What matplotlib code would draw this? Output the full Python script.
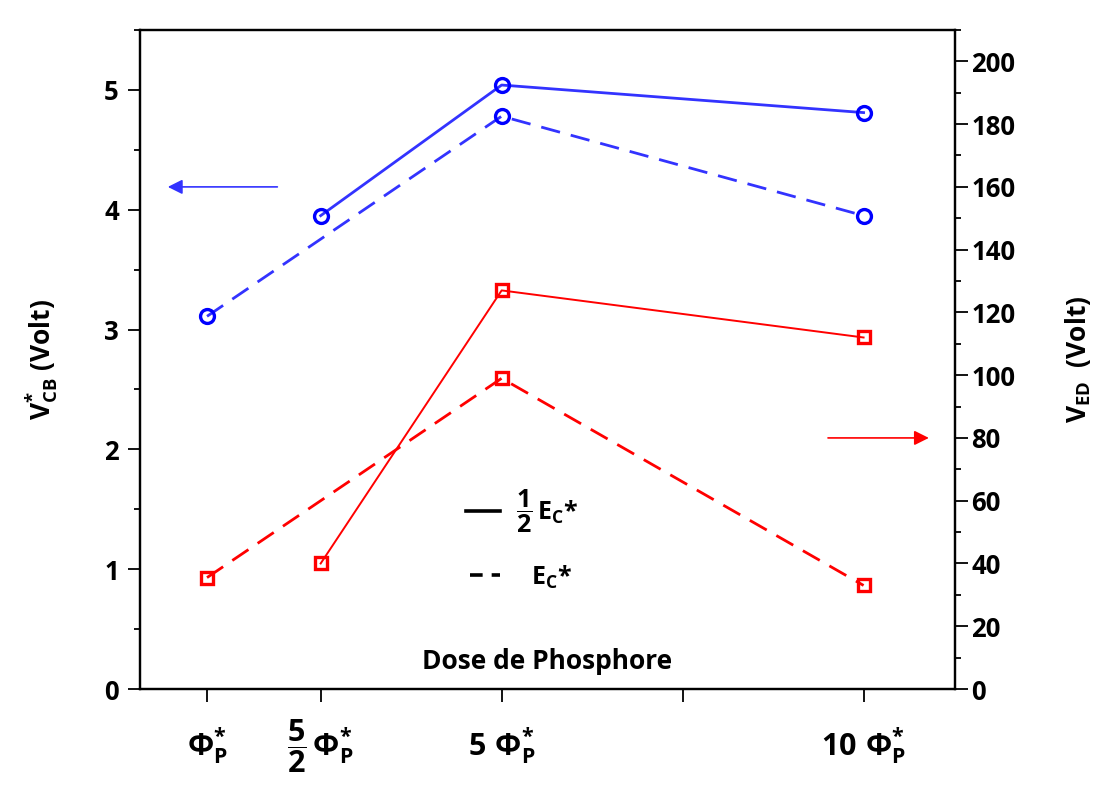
import matplotlib
matplotlib.use('Agg')
from matplotlib import pyplot as plt
from matplotlib.ticker import MultipleLocator
import numpy as np

# positions on the dose axis (unit = Phi_P*)
x_pos = [0.93, 2.5, 5, 10]
x_ticks = [0.93, 2.5, 5, 7.5, 10]
x_labels = [r'$\Phi_P^{*}$', r'$\dfrac{5}{2}\,\Phi_P^{*}$', r'$5\ \Phi_P^{*}$', '', r'$10\ \Phi_P^{*}$']

# V_CB* (left axis, Volt)
vcb_half_x = [2.5, 5, 10]
vcb_half = [3.95, 5.04, 4.81]
vcb_full_x = [0.93, 5, 10]
vcb_full = [3.11, 4.78, 3.95]

# V_ED (right axis, Volt)
ved_half_x = [2.5, 5, 10]
ved_half = [40, 127, 112]
ved_full_x = [0.93, 5, 10]
ved_full = [35.5, 99, 33]

plt.rcParams['font.family'] = ['Open Sans', 'DejaVu Sans']
plt.rcParams['font.weight'] = 'bold'
plt.rcParams['axes.labelweight'] = 'bold'
plt.rcParams['mathtext.fontset'] = 'custom'
plt.rcParams['mathtext.rm'] = 'Open Sans'
plt.rcParams['mathtext.bf'] = 'Open Sans:bold'
plt.rcParams['mathtext.it'] = 'Open Sans:italic:bold'
plt.rcParams['mathtext.default'] = 'bf'

blue = '#3333ff'
red = '#ff0000'

fig = plt.figure(figsize=(11, 7.87), dpi=100)
ax = fig.add_axes([0.127, 0.1245, 0.741, 0.8375])
ax2 = ax.twinx()

ax.plot(vcb_half_x, vcb_half, '-', color=blue, lw=2, marker='o', ms=10,
        mfc='none', mec='#0000ff', mew=2.4)
ax.plot(vcb_full_x, vcb_full, '--', color=blue, lw=2, dashes=(7, 4), marker='o', ms=10,
        mfc='none', mec='#0000ff', mew=2.4)
ax2.plot(ved_half_x, ved_half, '-', color=red, lw=1.4, marker='s', ms=9,
         mfc='none', mec=red, mew=2.4)
ax2.plot(ved_full_x, ved_full, '--', color=red, lw=2, dashes=(7, 4), marker='s', ms=9,
         mfc='none', mec=red, mew=2.4)

ax.set_xlim(0, 11.26)
ax.set_ylim(0, 5.5)
ax2.set_ylim(0, 210)

ax.set_xticks(x_ticks)
ax.set_xticklabels(x_labels, fontsize=22)
for lbl in ax.get_xticklabels():
    lbl.set_va('center')
ax.tick_params(axis='x', direction='out', length=9, width=1.3, pad=32, top=False)

ax.yaxis.set_major_locator(MultipleLocator(1))
ax.yaxis.set_minor_locator(MultipleLocator(0.5))
ax.tick_params(axis='y', which='major', direction='out', length=9, width=1.3, labelsize=18.5, pad=6)
ax.tick_params(axis='y', which='minor', direction='out', length=4, width=1.3)

ax2.yaxis.set_major_locator(MultipleLocator(20))
ax2.yaxis.set_minor_locator(MultipleLocator(10))
ax2.tick_params(axis='y', which='major', direction='out', length=9, width=1.3, labelsize=18.5, pad=3)
ax2.tick_params(axis='y', which='minor', direction='out', length=4, width=1.3)

for a in (ax, ax2):
    for s in a.spines.values():
        s.set_linewidth(1.6)

ax.set_ylabel(r'$V_{CB}^{*}$ (Volt)', fontsize=19, fontweight='bold', labelpad=32)
ax2.set_ylabel(r'$V_{ED}$  (Volt)', fontsize=19, fontweight='bold', labelpad=34)

# direction arrows
ax.annotate('', xy=(0.35, 4.19), xytext=(1.94, 4.19),
            arrowprops=dict(arrowstyle='-|>', color=blue, lw=1.2, mutation_scale=22))
ax2.annotate('', xy=(10.94, 80), xytext=(9.47, 80),
             arrowprops=dict(arrowstyle='-|>', color=red, lw=1.2, mutation_scale=22))

# legend drawn by hand
ax.plot([0.400, 0.442], [0.270, 0.270], color='black', lw=2.6, transform=ax.transAxes)
ax.plot([0.405, 0.442], [0.173, 0.173], color='black', lw=2.6, dashes=(3.5, 2.5),
        transform=ax.transAxes)
ax.text(0.462, 0.270, r'$\dfrac{1}{2}\,E_C$*', fontsize=18, va='center', ha='left',
        transform=ax.transAxes)
ax.text(0.480, 0.170, r'$E_C$*', fontsize=18, va='center', ha='left',
        transform=ax.transAxes)

ax.text(0.5, 0.042, 'Dose de Phosphore', fontsize=19, ha='center', va='center',
        transform=ax.transAxes)

fig.savefig('out.png', dpi=100)
